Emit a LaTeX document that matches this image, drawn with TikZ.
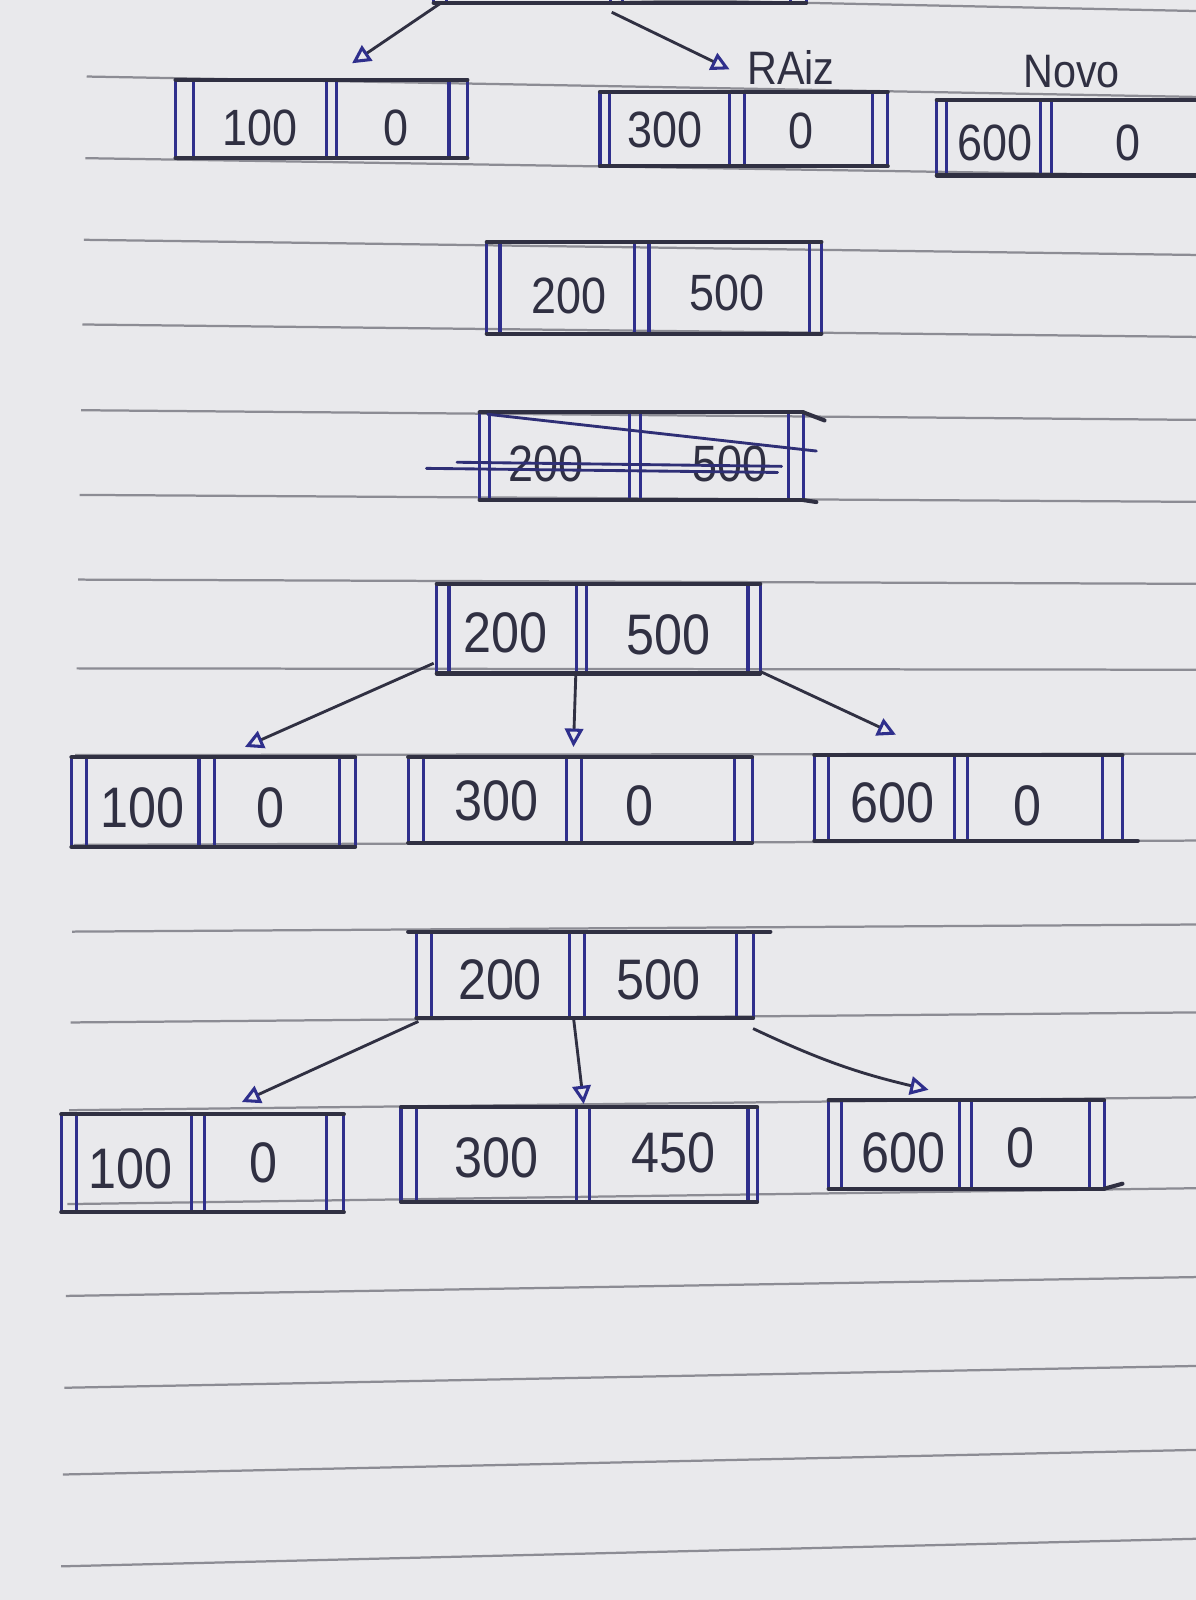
\documentclass[tikz,border=0pt]{standalone}
\usepackage{fontspec}
\setmainfont{Liberation Sans}
\newfontfamily\hand[FakeStretch=0.88]{Liberation Sans}
\usetikzlibrary{arrows.meta,fit,calc}
\definecolor{ink}{HTML}{303042}
\definecolor{blueink}{HTML}{2F2F8C}
\definecolor{paper}{HTML}{E9E9EC}
\definecolor{ruling}{HTML}{8C8C94}
\tikzset{
  hline/.style={draw=ink, line width=2pt, line cap=round},
  vline/.style={draw=blueink, line width=1.5pt, line cap=round},
  boxfit/.style={inner sep=0pt, outer sep=0pt, draw=none},
  keytext/.style={text=ink, inner sep=0pt, font=\hand\fontsize{25}{26}\selectfont},
  bigkey/.style={text=ink, inner sep=0pt, font=\hand\fontsize{28}{29}\selectfont},
  note/.style={text=ink, inner sep=0pt, font=\hand\fontsize{23}{24}\selectfont},
  arr/.style={draw=ink, line width=1.4pt, -{Triangle[open, length=9pt, width=9pt, line width=1.5pt, color=blueink]}},
  ruleline/.style={draw=ruling, line width=1.1pt},
  strike/.style={draw=blueink!70!ink, line width=1.4pt, line cap=round},
}
% name, x1..x6 (outer-left, inner-left, mid-left, mid-right, inner-right, outer-right), top, bottom
\newcommand\bbox[9]{%
  \coordinate (#1-nw) at (#2,#8);
  \coordinate (#1-se) at (#7,#9);
  \node[boxfit, fit=(#1-nw)(#1-se)] (#1) {};
  \draw[vline] (#2,#8)--(#2,#9) (#3,#8)--(#3,#9) (#4,#8)--(#4,#9)
               (#5,#8)--(#5,#9) (#6,#8)--(#6,#9) (#7,#8)--(#7,#9);
  \draw[hline] (#2,#8) -- (#7,#8) (#2,#9) -- (#7,#9);
}
\begin{document}
\begin{tikzpicture}[x=0.5pt,y=-0.5pt]
\useasboundingbox (0,0) rectangle (1172,1568);
\clip (0,0) rectangle (1172,1568);
\fill[paper] (0,0) rectangle (1172,1568);
% ruled paper
\foreach \yl in {-12,75,155,235,318,402,485,568,655,740,828,913,1002,1088,1180,1270,1360,1445,1535}{
  \pgfmathsetmacro\tilt{20-(\yl-75)/1460*47}
  \pgfmathsetmacro\xl{85-(\yl-75)/1460*25}
  \draw[ruleline] (\xl,\yl) -- (1172,{\yl+\tilt});
}
% ---- top: cut-off root and first row
\bbox{R}{425}{438}{598}{610}{775}{790}{-90}{3}
\bbox{A}{172}{190}{320}{330}{440}{458}{78}{155}
\bbox{B}{588}{597}{715}{730}{855}{870}{90}{163}
\bbox{C}{918}{928}{1020}{1030}{1190}{1200}{98}{172}
\node[keytext] (A1) at (255,125) {100};
\node[keytext] (A2) at (388,125) {0};
\node[keytext] (B1) at (652,127) {300};
\node[keytext] (B2) at (785,128) {0};
\node[keytext] (C1) at (975,140) {600};
\node[keytext] (C2) at (1105,140) {0};
\node[note] (raiz) at (775,66) {RAiz};
\node[note] (novo) at (1050,70) {Novo};
\coordinate (tA) at (345,62);
\coordinate (tB) at (715,68);
\draw[arr] ([xshift=3.5pt]R.south west) -- (tA);
\draw[arr] ($(R.south)+(-8,9)$) -- (tB);
% ---- second row
\bbox{D}{477}{490}{622}{636}{793}{805}{237}{327}
\node[keytext] (D1) at (558,290) {200};
\node[keytext] (D2) at (712,287) {500};
% ---- third row (crossed out)
\bbox{E}{470}{480}{617}{628}{773}{787}{404}{490}
\draw[hline] (787,404) -- (808,412) (787,490) -- (800,492);
\node[keytext] (E1) at (535,455) {200};
\node[keytext] (E2) at (715,455) {500};
\draw[strike] (478,406) -- (800,442);
\draw[strike] (418,459) -- (762,463);
\draw[strike] (448,453) -- (766,457);
% ---- fourth row
\bbox{F}{428}{440}{565}{575}{733}{745}{572}{660}
\node[bigkey] (F1) at (495,620) {200};
\node[bigkey] (F2) at (655,622) {500};
% ---- fifth row
\bbox{G}{70}{85}{195}{210}{333}{348}{742}{830}
\bbox{H}{400}{415}{555}{570}{720}{737}{742}{826}
\bbox{I}{798}{812}{935}{948}{1080}{1100}{740}{824}
\draw[hline] (1100,824) -- (1115,824);
\node[bigkey] (G1) at (140,792) {100};
\node[bigkey] (G2) at (265,792) {0};
\node[bigkey] (H1) at (487,785) {300};
\node[bigkey] (H2) at (627,790) {0};
\node[bigkey] (I1) at (875,787) {600};
\node[bigkey] (I2) at (1007,790) {0};
\coordinate (tG) at (240,732);
\coordinate (tH) at (562,732);
\coordinate (tI) at (878,720);
\draw[arr] ([xshift=-1.5pt,yshift=5pt]F.south west) -- (tG);
\draw[arr] ($(F.south west)!0.43!(F.south east)$) -- (tH);
\draw[arr] ([yshift=1pt]F.south east) -- (tI);
% ---- sixth row
\bbox{J}{408}{423}{558}{573}{722}{738}{913}{998}
\draw[hline] (400,913) -- (755,913);
\node[bigkey] (J1) at (490,960) {200};
\node[bigkey] (J2) at (645,960) {500};
% ---- seventh row
\bbox{K}{60}{75}{188}{200}{320}{337}{1092}{1188}
\bbox{L}{393}{408}{565}{578}{733}{742}{1085}{1178}
\bbox{M}{812}{825}{940}{952}{1068}{1082}{1078}{1165}
\draw[hline] (1082,1165) -- (1100,1160);
\node[bigkey] (K1) at (128,1145) {100};
\node[bigkey] (K2) at (258,1140) {0};
\node[bigkey] (L1) at (487,1135) {300};
\node[bigkey] (L2) at (660,1130) {450};
\node[bigkey] (M1) at (885,1130) {600};
\node[bigkey] (M2) at (1000,1125) {0};
\coordinate (tK) at (237,1080);
\coordinate (tL) at (572,1082);
\coordinate (tM) at (910,1068);
\draw[arr] ([xshift=1pt,yshift=-1.5pt]J.south west) -- (tK);
\draw[arr] ($(J.south west)!0.467!(J.south east)$) -- (tL);
\draw[arr] ([yshift=-5pt]J.south east) to[bend right=6] (tM);
\end{tikzpicture}
\end{document}
